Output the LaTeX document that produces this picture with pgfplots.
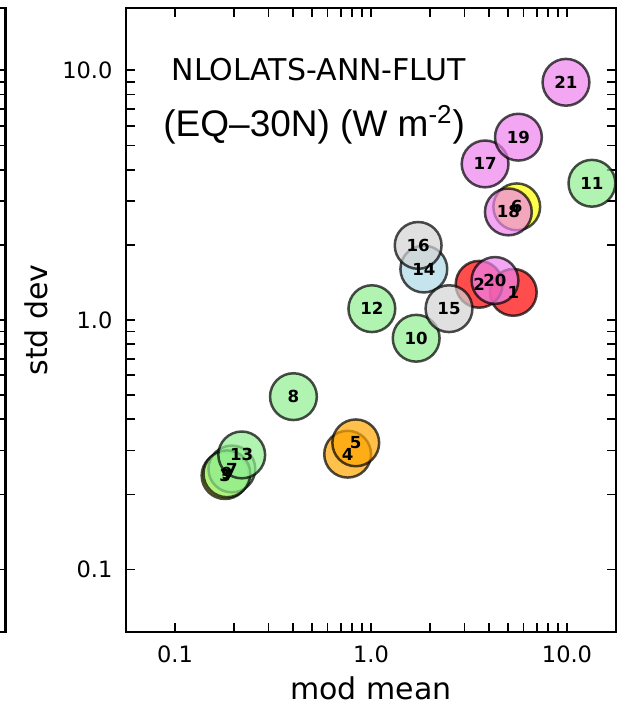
\documentclass[border=0pt]{standalone}
\usepackage{pgfplots}
\pgfplotsset{compat=1.18}
\usepackage{fontspec}
\setmainfont{DejaVu Sans}
\newfontfamily\arialf{Liberation Sans}
\definecolor{cgreen}{HTML}{90EE90}
\definecolor{cviolet}{HTML}{EE82EE}
\definecolor{cred}{HTML}{FF0000}
\definecolor{cyellow}{HTML}{FFFF00}
\definecolor{corange}{HTML}{FFA500}
\definecolor{cblue}{HTML}{ADD8E6}
\definecolor{cgray}{HTML}{D3D3D3}
\newcommand{\ptc}[3]{\addplot[only marks, mark=*, mark size=11.7pt,
  mark options={fill=#3, fill opacity=0.7, draw=black, draw opacity=0.7, line width=1.25pt}]
  coordinates {(#1,#2)};}
\newcommand{\ptl}[3]{\addplot[only marks, mark=none, draw=none,
  nodes near coords={#3}, nodes near coords align={center},
  every node near coord/.append style={font=\bfseries\fontsize{8.3}{9}\selectfont, text=black, text opacity=1, inner sep=0pt}]
  coordinates {(#1,#2)};}
\begin{document}
\begin{tikzpicture}
\begin{axis}[
  scale only axis, width=40pt, height=312pt,
  at={(-60.25pt,0pt)}, anchor=south east,
  ymode=log, ymin=0.05623, ymax=17.78, xmin=0, xmax=1,
  xtick=\empty, ytick={0.1,1,10}, yticklabels={},
  axis line style={line width=1.4pt},
  major tick length=4.5pt, minor tick length=4.5pt,
  every tick/.style={black, line width=0.9pt},
]
\end{axis}
\begin{axis}[
  scale only axis, width=245pt, height=312pt,
  xmode=log, ymode=log,
  xmin=0.05623, xmax=17.78, ymin=0.05623, ymax=17.78,
  xtick={0.1,1,10}, xticklabels={0.1,1.0,10.0},
  ytick={0.1,1,10}, yticklabels={0.1,1.0,10.0},
  /pgf/number format/assume math mode=true,
  ticklabel style={font=\fontsize{11.25}{13}\selectfont},
  xticklabel style={yshift=-3.5pt},
  yticklabel style={xshift=-3.25pt},
  axis line style={line width=1.4pt},
  major tick length=4.5pt, minor tick length=4.5pt,
  every tick/.style={black, line width=0.9pt},
  xlabel={mod mean}, ylabel={std dev},
  label style={font=\fontsize{15}{18}\selectfont, inner sep=0pt},
  xlabel style={at={(axis description cs:0.5,-0.09)}, anchor=center},
  ylabel style={at={(axis description cs:-0.182,0.5)}, anchor=center},
]
% circles
\ptc{5.32}{1.29}{cred}
\ptc{3.56}{1.39}{cred}
\ptc{0.180}{0.238}{cyellow}
\ptc{0.760}{0.290}{corange}
\ptc{0.836}{0.322}{corange}
\ptc{5.54}{2.84}{cyellow}
\ptc{0.195}{0.253}{cgreen}
\ptc{0.402}{0.493}{cgreen}
\ptc{0.184}{0.242}{cgreen}
\ptc{1.70}{0.845}{cgreen}
\ptc{13.4}{3.53}{cgreen}
\ptc{1.01}{1.11}{cgreen}
\ptc{0.219}{0.288}{cgreen}
\ptc{1.86}{1.60}{cblue}
\ptc{2.50}{1.11}{cgray}
\ptc{1.74}{1.99}{cgray}
\ptc{3.82}{4.22}{cviolet}
\ptc{5.02}{2.71}{cviolet}
\ptc{5.65}{5.40}{cviolet}
\ptc{4.29}{1.44}{cviolet}
\ptc{9.88}{8.96}{cviolet}
% labels
\ptl{5.32}{1.29}{1}
\ptl{3.56}{1.39}{2}
\ptl{0.180}{0.238}{3}
\ptl{0.760}{0.290}{4}
\ptl{0.836}{0.322}{5}
\ptl{5.54}{2.84}{6}
\ptl{0.195}{0.253}{7}
\ptl{0.402}{0.493}{8}
\ptl{0.184}{0.242}{9}
\ptl{1.70}{0.845}{10}
\ptl{13.4}{3.53}{11}
\ptl{1.01}{1.11}{12}
\ptl{0.219}{0.288}{13}
\ptl{1.86}{1.60}{14}
\ptl{2.50}{1.11}{15}
\ptl{1.74}{1.99}{16}
\ptl{3.82}{4.22}{17}
\ptl{5.02}{2.71}{18}
\ptl{5.65}{5.40}{19}
\ptl{4.29}{1.44}{20}
\ptl{9.88}{8.96}{21}
\node[font=\fontsize{15}{18}\selectfont] at (axis description cs:0.393,0.901) {NLOLATS-ANN-FLUT};
\node[font=\arialf\fontsize{18.5}{22}\selectfont] at (axis description cs:0.384,0.8125) {(EQ–30N) (W m\textsuperscript{-2})};
\end{axis}
\pgfresetboundingbox
\useasboundingbox (-63pt,-36pt) rectangle (246.5pt,316pt);
\end{tikzpicture}
\end{document}
